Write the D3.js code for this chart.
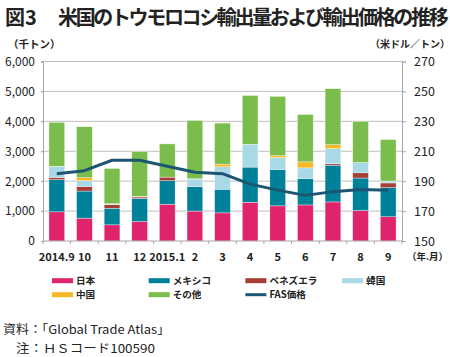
<!DOCTYPE html>
<html><head><meta charset="utf-8">
<script src="https://cdn.jsdelivr.net/npm/d3@7"></script>
<style>
body{margin:0;background:#fff;}
svg{display:block;}
text{font-family:"Noto Sans CJK JP","Liberation Sans",sans-serif;fill:#222;}
</style></head>
<body><svg id="c" width="450" height="357"></svg>
<script>
const categories = ["2014.9","10","11","12","2015.1","2","3","4","5","6","7","8","9"];
const seriesNames = ["日本","メキシコ","ベネズエラ","韓国","中国","その他"];
const japan     = [975, 765, 540, 650, 1230, 1000, 940, 1295, 1175, 1205, 1305, 1020, 810];
const mexico    = [1075, 905, 555, 775, 785, 815, 790, 1175, 1215, 885, 1230, 1085, 975];
const venezuela = [75, 155, 120, 45, 120, 10, 0, 0, 0, 0, 45, 175, 155];
const korea     = [365, 190, 15, 10, 0, 245, 750, 765, 400, 355, 510, 345, 65];
const china     = [10, 100, 20, 15, 0, 10, 90, 0, 65, 200, 130, 0, 0];
const others    = [1465, 1705, 1175, 1495, 1110, 1950, 1370, 1630, 1980, 1585, 1870, 1375, 1385];
const fasPrice  = [195, 197, 204, 204, 200, 196, 195, 188, 184, 180.5, 183, 184.5, 184];
const leftTicks = [0, 1000, 2000, 3000, 4000, 5000, 6000];
const rightTicks = [150, 170, 190, 210, 230, 250, 270];
const colors = ["#e0246c","#00819a","#a63e38","#a9d9e7","#f6b923","#7bbd4d"];
const lineColor = "#1d5672";

const svg = d3.select("#c");
const x0 = 43, x1 = 402, yTop = 61.5, yBot = 241;

const x = d3.scaleBand().domain(categories).range([x0, x1]).paddingInner(0.43).paddingOuter(0.215);
const yL = d3.scaleLinear().domain([0, 6000]).range([yBot, yTop]);
const yR = d3.scaleLinear().domain([150, 270]).range([yBot, yTop]);

// Title
svg.append("text").attr("x", 5).attr("y", 24.5).attr("font-size", 20).attr("font-weight", 700).text("図3");
svg.append("text").attr("x", 58).attr("y", 24.5).attr("font-size", 20).attr("font-weight", 700)
  .attr("letter-spacing", "-2.35px").text("米国のトウモロコシ輸出量および輸出価格の推移");

// unit labels
svg.append("text").attr("x", 8).attr("y", 48).attr("font-size", 10.5).attr("font-weight", 700).text("（千トン）");
svg.append("text").attr("x", 450).attr("y", 48).attr("font-size", 10).attr("font-weight", 700).attr("text-anchor", "end").text("（米ドル／トン）");

// gridlines
svg.append("g").selectAll("line").data(leftTicks.filter(d => d > 0)).join("line")
  .attr("x1", x0 - 2).attr("x2", x1).attr("y1", d => yL(d)).attr("y2", d => yL(d))
  .attr("stroke", "#bfbfbf").attr("stroke-width", 1);

// left axis
const axL = svg.append("g").attr("transform", `translate(${x0},0)`)
  .call(d3.axisLeft(yL).tickValues(leftTicks).tickFormat(d3.format(",")).tickSize(2).tickPadding(6));
axL.select(".domain").attr("stroke", "#a6a6a6");
axL.selectAll(".tick line").attr("stroke", "#a6a6a6");
axL.selectAll("text").attr("font-family", "'Liberation Sans',Arial,sans-serif").attr("font-size", 12).attr("fill", "#222");

// right axis
const axR = svg.append("g").attr("transform", `translate(${x1},0)`)
  .call(d3.axisRight(yR).tickValues(rightTicks).tickSize(4).tickPadding(8));
axR.select(".domain").attr("stroke", "#a6a6a6");
axR.selectAll(".tick line").attr("stroke", "#a6a6a6");
axR.selectAll("text").attr("font-family", "'Liberation Sans',Arial,sans-serif").attr("font-size", 12.5).attr("fill", "#222");

// stacked bars
const table = categories.map((c, i) => ({cat: c, "日本": japan[i], "メキシコ": mexico[i], "ベネズエラ": venezuela[i], "韓国": korea[i], "中国": china[i], "その他": others[i]}));
const stack = d3.stack().keys(seriesNames)(table);
svg.append("g").selectAll("g").data(stack).join("g").attr("fill", (d, i) => colors[i])
  .selectAll("rect").data(d => d).join("rect")
  .attr("x", d => x(d.data.cat)).attr("width", x.bandwidth())
  .attr("y", d => yL(d[1])).attr("height", d => Math.max(0, yL(d[0]) - yL(d[1])))
  .attr("stroke", "#ffffff").attr("stroke-width", 0.5).attr("stroke-opacity", 0.7);

// x axis
svg.append("line").attr("x1", x0).attr("x2", x1).attr("y1", yBot).attr("y2", yBot).attr("stroke", "#a6a6a6");
const step = x.step();
svg.append("g").selectAll("line").data(d3.range(categories.length + 1)).join("line")
  .attr("x1", i => x0 + i * step).attr("x2", i => x0 + i * step)
  .attr("y1", yBot).attr("y2", yBot + 3).attr("stroke", "#a6a6a6");
svg.append("g").selectAll("text").data(categories).join("text")
  .attr("x", d => x(d) + x.bandwidth() / 2).attr("y", 261).attr("text-anchor", "middle")
  .attr("font-family", "'Liberation Sans',Arial,sans-serif").attr("font-size", 11).attr("font-weight", 700).text(d => d);
svg.append("text").attr("x", 407).attr("y", 260).attr("font-size", 9.5).attr("font-weight", 700).text("（年.月）");

// FAS line
const line = d3.line().x((d, i) => x(categories[i]) + x.bandwidth() / 2).y(d => yR(d));
svg.append("path").datum(fasPrice).attr("d", line).attr("fill", "none")
  .attr("stroke", lineColor).attr("stroke-width", 3).attr("stroke-linejoin", "round");

// legend
const legendItems = [
  {name: "日本", c: colors[0], col: 0, row: 0},
  {name: "メキシコ", c: colors[1], col: 1, row: 0},
  {name: "ベネズエラ", c: colors[2], col: 2, row: 0},
  {name: "韓国", c: colors[3], col: 3, row: 0},
  {name: "中国", c: colors[4], col: 0, row: 1},
  {name: "その他", c: colors[5], col: 1, row: 1},
  {name: "FAS価格", c: lineColor, col: 2, row: 1, line: true}
];
const lg = svg.append("g");
legendItems.forEach(it => {
  const lx = 52 + it.col * 96.7, ly = 280.7 + it.row * 14;
  if (it.line) {
    lg.append("line").attr("x1", lx).attr("x2", lx + 21).attr("y1", ly).attr("y2", ly).attr("stroke", it.c).attr("stroke-width", 3);
  } else {
    lg.append("rect").attr("x", lx).attr("y", ly - 2.5).attr("width", 21).attr("height", 5).attr("fill", it.c);
  }
  lg.append("text").attr("x", lx + 24).attr("y", ly + 3.6).attr("font-size", 9.6).attr("font-weight", 700).text(it.name);
});

// footer
svg.append("text").attr("x", 3).attr("y", 334).attr("font-size", 12)
  .attr("textLength", 167).attr("lengthAdjust", "spacingAndGlyphs").text("資料：「Global Trade Atlas」");
svg.append("text").attr("x", 16).attr("y", 353).attr("font-size", 12)
  .attr("textLength", 139).attr("lengthAdjust", "spacingAndGlyphs").text("注：ＨＳコード100590");
</script></body></html>
